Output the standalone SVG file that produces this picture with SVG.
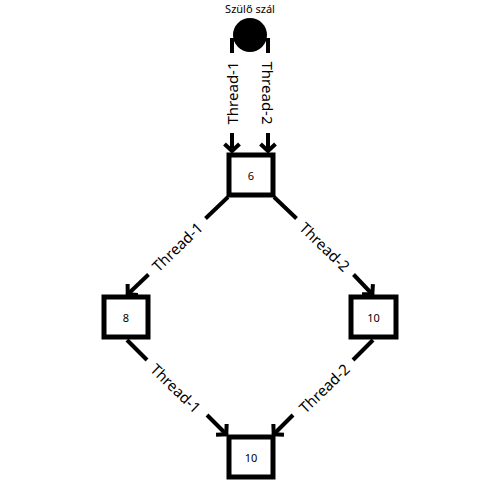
<svg xmlns="http://www.w3.org/2000/svg" width="500" height="500" viewBox="0 0 500 500">
<style>
.box{fill:#fff;stroke:#000;stroke-width:5}
.nt{font-family:"Noto Sans",sans-serif;font-size:11px;fill:#000;text-anchor:middle;dominant-baseline:central}
.lbl{font-family:"Noto Sans",sans-serif;font-size:15px;fill:#000;text-anchor:middle;dominant-baseline:central}
.ln{stroke:#000;stroke-width:4;fill:none}
</style>
<defs>
<marker id="arr" markerUnits="userSpaceOnUse" viewBox="-10 -10 20 20" markerWidth="20" markerHeight="20" refX="0" refY="0" orient="auto">
<path d="M-8,-7.5 L-1,0 L-8,7.5" fill="none" stroke="#000" stroke-width="4"/>
</marker>
</defs>
<g id="connectors">
<line class="ln" x1="232" y1="38" x2="232" y2="53"/>
<line class="ln" x1="232" y1="133" x2="232" y2="152" marker-end="url(#arr)"/>
<text class="lbl" transform="translate(232,93) rotate(-90)">Thread-1</text>
<line class="ln" x1="268" y1="38" x2="268" y2="53"/>
<line class="ln" x1="268" y1="133" x2="268" y2="152" marker-end="url(#arr)"/>
<text class="lbl" transform="translate(268,93) rotate(90)">Thread-2</text>
<line class="ln" x1="228" y1="197" x2="205.5" y2="218.5"/>
<line class="ln" x1="148.5" y1="274.5" x2="127" y2="295" marker-end="url(#arr)"/>
<text class="lbl" transform="translate(177,246.5) rotate(-44)">Thread-1</text>
<line class="ln" x1="274" y1="197" x2="296.5" y2="218.5"/>
<line class="ln" x1="353.5" y1="274.5" x2="373" y2="295" marker-end="url(#arr)"/>
<text class="lbl" transform="translate(325,246.5) rotate(44)">Thread-2</text>
<line class="ln" x1="127" y1="340" x2="147" y2="360"/>
<line class="ln" x1="207" y1="415" x2="227" y2="435" marker-end="url(#arr)"/>
<text class="lbl" transform="translate(176,388) rotate(44)">Thread-1</text>
<line class="ln" x1="373" y1="340" x2="353" y2="360"/>
<line class="ln" x1="293" y1="415" x2="273" y2="435" marker-end="url(#arr)"/>
<text class="lbl" transform="translate(324,388) rotate(-44)">Thread-2</text>
</g>
<g id="start">
<text x="250" y="8" class="nt">Szülő szál</text>
<circle cx="250" cy="35" r="17" fill="#000"/>
</g>
<g id="n6"><rect class="box" x="229" y="155" width="44" height="40"/><text class="nt" x="251" y="175">6</text></g>
<g id="n8"><rect class="box" x="104" y="297" width="44" height="40"/><text class="nt" x="126" y="317">8</text></g>
<g id="n10a"><rect class="box" x="351" y="297" width="45" height="40"/><text class="nt" x="373.5" y="317">10</text></g>
<g id="n10b"><rect class="box" x="229" y="437" width="44" height="40"/><text class="nt" x="251" y="457">10</text></g>
</svg>
